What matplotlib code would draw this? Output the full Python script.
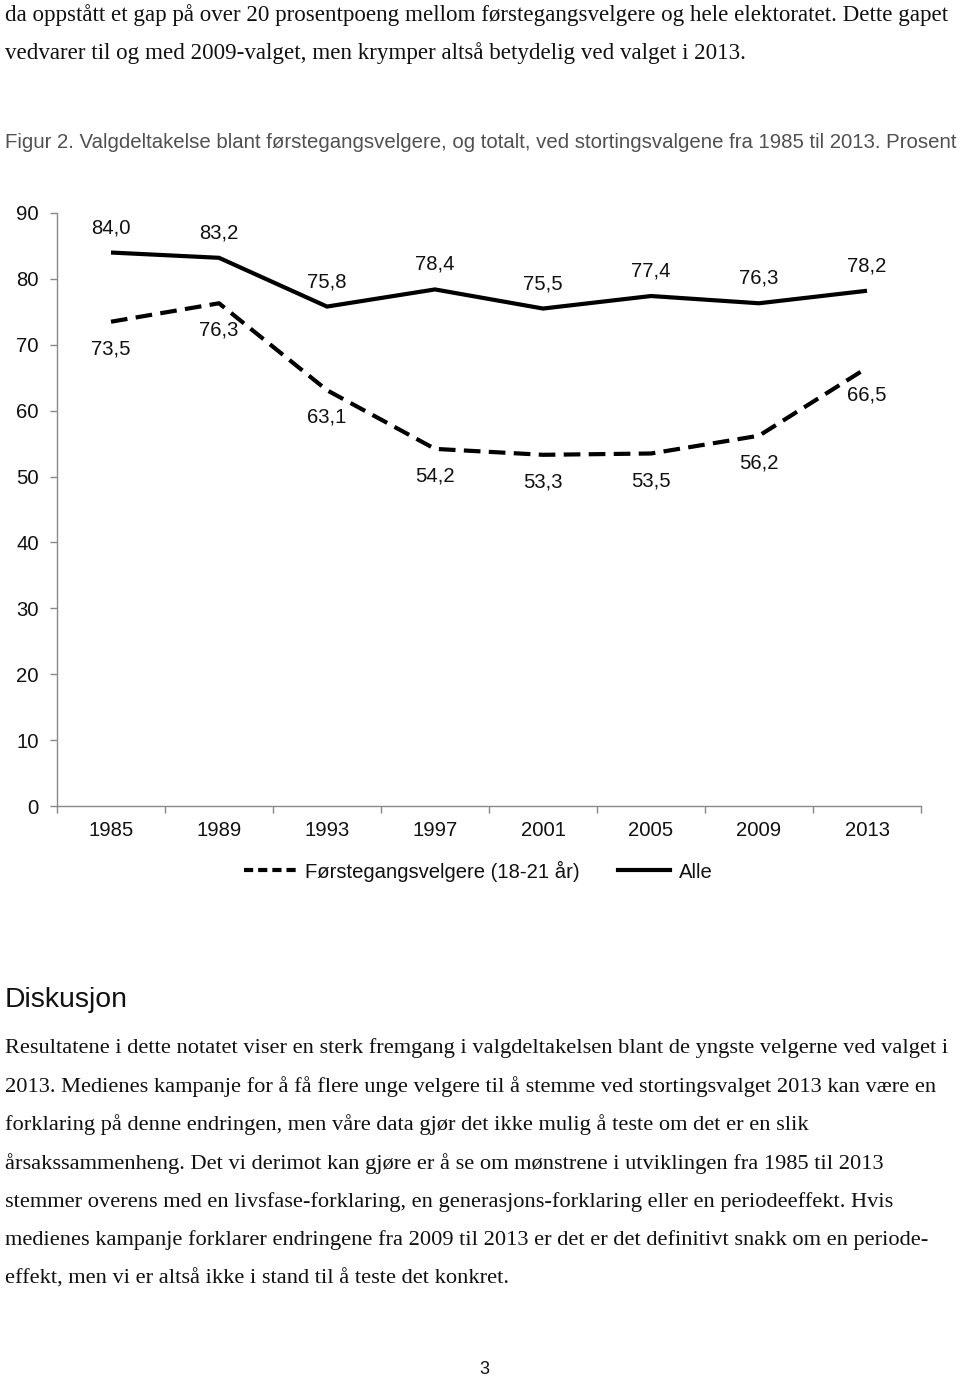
import matplotlib
matplotlib.use("Agg")
import matplotlib.pyplot as plt
from matplotlib.lines import Line2D

years = ["1985", "1989", "1993", "1997", "2001", "2005", "2009", "2013"]
alle = [84.0, 83.2, 75.8, 78.4, 75.5, 77.4, 76.3, 78.2]
forste = [73.5, 76.3, 63.1, 54.2, 53.3, 53.5, 56.2, 66.5]
yticks = [0, 10, 20, 30, 40, 50, 60, 70, 80, 90]
series_names = ["Førstegangsvelgere (18-21 år)", "Alle"]

top_lines = [
    "da oppstått et gap på over 20 prosentpoeng mellom førstegangsvelgere og hele elektoratet. Dette gapet",
    "vedvarer til og med 2009-valget, men krymper altså betydelig ved valget i 2013.",
]
caption = "Figur 2. Valgdeltakelse blant førstegangsvelgere, og totalt, ved stortingsvalgene fra 1985 til 2013. Prosent"
heading = "Diskusjon"
body_lines = [
    "Resultatene i dette notatet viser en sterk fremgang i valgdeltakelsen blant de yngste velgerne ved valget i",
    "2013. Medienes kampanje for å få flere unge velgere til å stemme ved stortingsvalget 2013 kan være en",
    "forklaring på denne endringen, men våre data gjør det ikke mulig å teste om det er en slik",
    "årsakssammenheng. Det vi derimot kan gjøre er å se om mønstrene i utviklingen fra 1985 til 2013",
    "stemmer overens med en livsfase-forklaring, en generasjons-forklaring eller en periodeeffekt. Hvis",
    "medienes kampanje forklarer endringene fra 2009 til 2013 er det er det definitivt snakk om en periode-",
    "effekt, men vi er altså ikke i stand til å teste det konkret.",
]
page_number = "3"

W, H = 960, 1377
fig = plt.figure(figsize=(W / 100, H / 100), dpi=100)


def fy(y):
    return 1 - y / H


serif = "Liberation Serif"
sans = "Liberation Sans"
txt = "#111111"
fs = 14.6

# top paragraph
for y, line in zip([15, 53], top_lines):
    fig.text(5 / W, fy(y), line, family=serif, fontsize=16.6, va="center", ha="left", color=txt)

fig.text(5 / W, fy(143), caption, family=sans, fontsize=14.7, va="center", ha="left", color="#505050")

# axes
ax = fig.add_axes([57 / W, fy(806), (921 - 57) / W, (806 - 213) / H])
x = list(range(len(years)))
ax.plot(x, alle, color="black", lw=3.0, solid_capstyle="butt", solid_joinstyle="miter", label=series_names[1])
ax.plot(x, forste, color="black", lw=3.0, dashes=(4, 2), label=series_names[0])
ax.set_xlim(-0.5, len(years) - 0.5)
ax.set_ylim(0, 90)
ax.set_yticks(yticks)
ax.set_yticklabels([str(t) for t in yticks])
ax.set_xticks(x)
ax.set_xticklabels(years)
ax.set_xticks([i - 0.5 for i in range(len(years) + 1)], minor=True)
ax.tick_params(axis="x", which="major", length=0, pad=11, labelsize=fs, labelcolor=txt)
ax.tick_params(axis="x", which="minor", length=5, width=1, color="#898989")
ax.tick_params(axis="y", which="major", length=5, width=1, color="#898989", pad=8, labelsize=fs, labelcolor=txt)
for s in ["top", "right"]:
    ax.spines[s].set_visible(False)
for s in ["left", "bottom"]:
    ax.spines[s].set_color("#898989")
    ax.spines[s].set_linewidth(1)
for lab in ax.get_xticklabels() + ax.get_yticklabels():
    lab.set_family(sans)

for xi, v in zip(x, alle):
    ax.annotate(f"{v:.1f}".replace(".", ","), (xi, v), xytext=(0, 18), textcoords="offset points",
                ha="center", va="center", fontsize=fs, family=sans, color=txt)
for xi, v in zip(x, forste):
    ax.annotate(f"{v:.1f}".replace(".", ","), (xi, v), xytext=(0, -19.5), textcoords="offset points",
                ha="center", va="center", fontsize=fs, family=sans, color=txt)

handles = [Line2D([], [], color="black", lw=3.0, dashes=(2.2, 1.2)),
           Line2D([], [], color="black", lw=3.0)]
leg = ax.legend(handles, series_names, loc="center", bbox_to_anchor=(478 / W, fy(871)),
                bbox_transform=fig.transFigure, ncol=2, frameon=False, handlelength=2.6,
                handletextpad=0.4, columnspacing=1.9, prop={"family": sans, "size": fs})
for t in leg.get_texts():
    t.set_color(txt)

fig.text(5 / W, fy(1000), heading, family=sans, fontsize=20.4, va="center", ha="left", color=txt)
for i, line in enumerate(body_lines):
    fig.text(5 / W, fy(1048 + i * 38.5), line, family=serif, fontsize=16.1, va="center", ha="left", color=txt)

fig.text(484 / W, fy(1370), page_number, family=sans, fontsize=13, va="center", ha="center", color=txt)

fig.savefig("out.png", dpi=100)
